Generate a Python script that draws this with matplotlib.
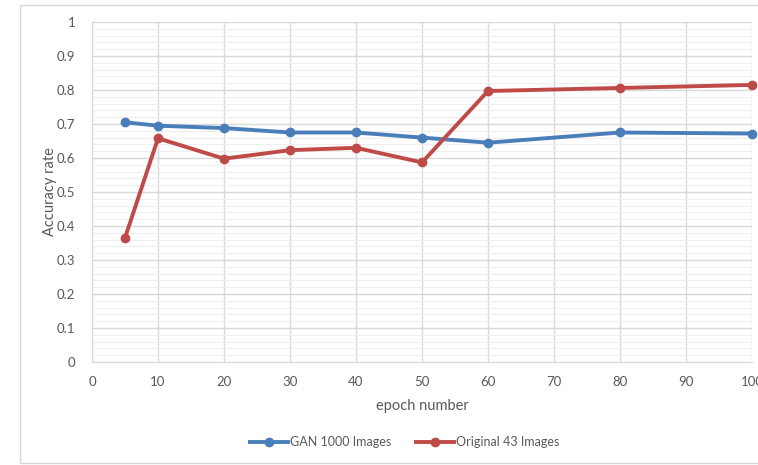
import matplotlib
matplotlib.use("Agg")
import matplotlib.pyplot as plt
from matplotlib.patches import Rectangle
import numpy as np

plt.rcParams['font.family'] = ['Lato', 'DejaVu Sans']

epochs = [5, 10, 20, 30, 40, 50, 60, 80, 100]
gan_1000 = [0.705, 0.695, 0.688, 0.675, 0.675, 0.660, 0.645, 0.675, 0.672]
orig_43 = [0.365, 0.658, 0.598, 0.623, 0.630, 0.587, 0.797, 0.806, 0.815]
x_ticks = [0, 10, 20, 30, 40, 50, 60, 70, 80, 90, 100]
y_ticks = [0, 0.1, 0.2, 0.3, 0.4, 0.5, 0.6, 0.7, 0.8, 0.9, 1]

W, H = 758, 465
fig = plt.figure(figsize=(W/100, H/100), dpi=100)
fig.patch.set_facecolor('white')
fig.add_artist(Rectangle((20/W, 2/H), 1.0, 1 - 7/H, transform=fig.transFigure,
                         fill=False, edgecolor='#D9D9D9', linewidth=1))

ax = fig.add_axes([92/W, 103/H, 660/W, 340/H])
txt = '#595959'
ax.set_xlim(0, 100)
ax.set_ylim(0, 1)
ax.set_xticks(x_ticks)
ax.set_yticks(y_ticks)
ax.set_yticklabels(['0' if v == 0 else ('1' if v == 1 else f'{v:.1f}') for v in y_ticks])
ax.set_yticks(np.arange(0, 1.0001, 0.02), minor=True)
ax.tick_params(which='both', length=0, colors=txt, labelsize=9.5)
ax.tick_params(axis='x', pad=10)
ax.tick_params(axis='y', pad=12)
ax.grid(which='major', color='#D9D9D9', linewidth=1)
ax.grid(which='minor', axis='y', color='#EFEFEF', linewidth=0.8)
ax.set_axisbelow(True)
for s in ['top', 'right']:
    ax.spines[s].set_visible(False)
for s in ['left', 'bottom']:
    ax.spines[s].set_color('#D9D9D9')

ax.plot(epochs, gan_1000, color='#4A7EBB', linewidth=2.8, marker='o', markersize=6,
        label='GAN 1000 Images', clip_on=False, zorder=3)
ax.plot(epochs, orig_43, color='#BE4B48', linewidth=2.8, marker='o', markersize=6,
        label='Original 43 Images', clip_on=False, zorder=3)

ax.set_xlabel('epoch number', color=txt, fontsize=10.5, labelpad=8)
ax.set_ylabel('Accuracy rate', color=txt, fontsize=10.5, labelpad=0)
ax.yaxis.set_label_coords(-35/660, 0.5)

leg = fig.legend(loc='center', bbox_to_anchor=(405/W, 1 - 442/H), ncol=2, frameon=False,
                 fontsize=9, handlelength=3, columnspacing=2.0, handletextpad=0.2)
for t in leg.get_texts():
    t.set_color(txt)

fig.savefig('out.png', dpi=100, facecolor='white')
